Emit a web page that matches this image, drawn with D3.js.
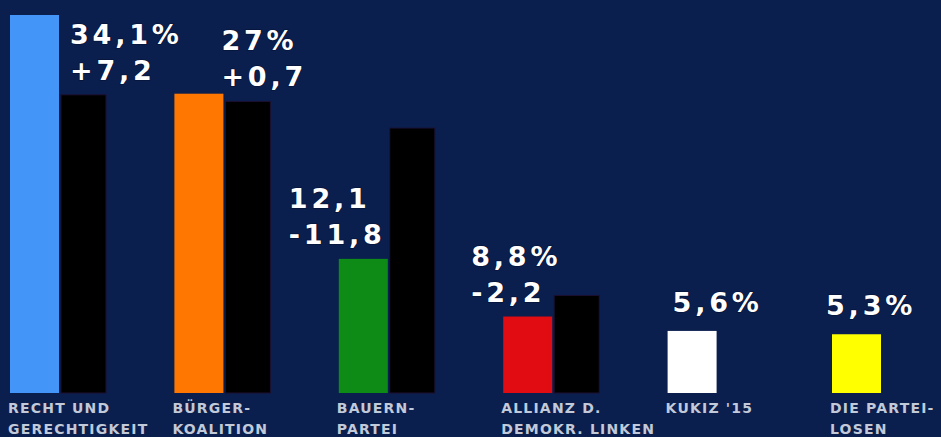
<!DOCTYPE html>
<html>
<head>
<meta charset="utf-8">
<script src="https://cdn.jsdelivr.net/npm/d3@7"></script>
<style>
  html, body { margin: 0; padding: 0; background: #0a1f4e; overflow: hidden; }
  svg { display: block; }
</style>
</head>
<body>
<svg id="chart"></svg>
<script>
// Party data
const parties = ["RECHT UND|GERECHTIGKEIT", "BÜRGER-|KOALITION", "BAUERN-|PARTEI", "ALLIANZ D.|DEMOKR. LINKEN", "KUKIZ '15", "DIE PARTEI-|LOSEN"];
const colors = ["#4396f7", "#ff7700", "#0e8a16", "#e00c12", "#ffffff", "#ffff00"];
const current = [34.1, 27.0, 12.1, 6.9, 5.6, 5.3];
const previous = [26.9, 26.3, 23.9, 8.8, null, null];
const resultLabels = ["34,1%", "27%", "12,1", "8,8%", "5,6%", "5,3%"];
const changeLabels = ["+7,2", "+0,7", "-11,8", "-2,2", null, null];

const width = 941, height = 437;
const baseline = 393;

const svg = d3.select("#chart")
  .attr("width", width)
  .attr("height", height);

svg.append("rect")
  .attr("width", width)
  .attr("height", height)
  .attr("fill", "#0a1f4e");

const x = d3.scaleBand()
  .domain(d3.range(parties.length))
  .range([10, 10 + 6 * 164.4]);

const y = d3.scaleLinear()
  .domain([0, 34.1])
  .range([baseline, 15]);

const curW = 49, prevW = 45, gap = 2;

// previous result bars (black)
svg.selectAll("rect.prev")
  .data(previous.map((v, i) => ({ v, i })).filter(d => d.v != null))
  .join("rect")
  .attr("class", "prev")
  .attr("x", d => x(d.i) + curW + gap)
  .attr("y", d => y(d.v))
  .attr("width", prevW)
  .attr("height", d => baseline - y(d.v))
  .attr("fill", "#000")
  .attr("stroke", "#1c1030")
  .attr("stroke-width", 1);

// current result bars
svg.selectAll("rect.cur")
  .data(current.map((v, i) => ({ v, i })))
  .join("rect")
  .attr("class", "cur")
  .attr("x", d => x(d.i))
  .attr("y", d => y(d.v))
  .attr("width", curW)
  .attr("height", d => baseline - y(d.v))
  .attr("fill", d => colors[d.i]);

// label placement: horizontal offset from group start, which bar it sits on
const labelDx = [60, 47, -50, -32, 5, -6];
const labelOnPrev = [true, true, false, false, false, false];

const labels = svg.append("g")
  .attr("font-family", "'DejaVu Sans', Verdana, sans-serif")
  .attr("font-weight", "bold")
  .attr("font-size", 27)
  .attr("letter-spacing", 3.8)
  .attr("fill", "#ffffff")
  .attr("stroke", "#06143a")
  .attr("stroke-width", 1.5)
  .attr("paint-order", "stroke");

current.forEach((v, i) => {
  const top = labelOnPrev[i] ? y(previous[i]) : y(v);
  const lx = x(i) + labelDx[i];
  if (changeLabels[i]) {
    labels.append("text").attr("x", lx).attr("y", top - 15 - 36).text(resultLabels[i]);
    labels.append("text").attr("x", lx).attr("y", top - 15).text(changeLabels[i]);
  } else {
    labels.append("text").attr("x", lx).attr("y", top - 19).text(resultLabels[i]);
  }
});

// category names under the bars
const names = svg.append("g")
  .attr("font-family", "'DejaVu Sans', Verdana, sans-serif")
  .attr("font-weight", "bold")
  .attr("font-size", 14)
  .attr("letter-spacing", 1.2)
  .attr("fill", "#c2c9d8");

parties.forEach((p, i) => {
  p.split("|").forEach((line, j) => {
    names.append("text")
      .attr("x", x(i) - 2)
      .attr("y", 413 + j * 21)
      .text(line);
  });
});
</script>
</body>
</html>
